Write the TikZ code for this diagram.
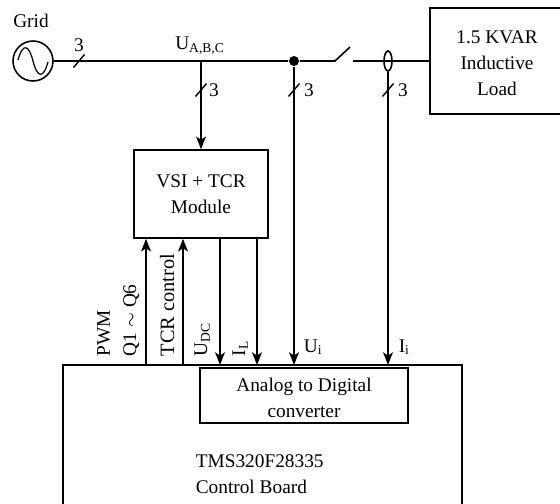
\documentclass[tikz,border=0pt]{standalone}
\usepackage{fontspec}
\setmainfont{Liberation Serif}
\usetikzlibrary{arrows.meta,shapes.geometric}
\tikzset{
  block/.style={draw,inner sep=0pt},
  lbl/.style={inner sep=0pt,align=center,font=\fontsize{11}{14.8}\selectfont},
  vlbl/.style={lbl,rotate=90,anchor=base west,align=left},
  tick/.style={line width=0.8pt}
}

\begin{document}
\begin{tikzpicture}[line width=0.9pt,>={Stealth[length=7.2pt,width=5.6pt,inset=1.8pt]}]
\useasboundingbox (0,0) rectangle (11.2,10.06);
% ---------- grid and bus ----------
\node[lbl] (gridlabel) at (0.62,9.64) {Grid};
\node[draw,circle,minimum size=0.8cm,inner sep=0pt] (grid) at (0.66,8.84) {};
\draw[line width=0.7pt] (0.36,8.86) .. controls (0.46,9.22) and (0.58,9.16) .. (0.66,8.84)
  .. controls (0.74,8.52) and (0.86,8.46) .. (0.96,8.82);
\coordinate (busfeed) at (4.02,8.84);
\node[fill,circle,minimum size=0.2cm,inner sep=0pt] (busdot) at (5.88,8.84) {};
\coordinate (swleft) at (6.70,8.84);
\coordinate (swtip) at (7.00,9.12);
\coordinate (swright) at (7.06,8.84);
\node[draw,ellipse,minimum width=0.16cm,minimum height=0.40cm,inner sep=0pt] (ct) at (7.76,8.84) {};
\node[block,minimum width=3.2cm,minimum height=2.12cm] (load) at (10.2,8.84) {};
\node[lbl] (loadtext) at (9.94,8.80) {1.5 KVAR\\Inductive\\Load};
\draw (grid) -- (busdot) -- (swleft) -- (swtip);
\draw (swright) -- (load.west);
\node[lbl] (busname) at (4.00,9.14) {U\textsubscript{A,B,C}};
% ---------- boxes ----------
\node[block,minimum width=2.68cm,minimum height=1.76cm] (vsi) at (4.02,6.18) {};
\node[lbl] (vsitext) at (4.02,6.17) {VSI + TCR\\Module};
\node[block,minimum width=7.98cm,minimum height=3.16cm] (board) at (5.25,1.18) {};
\node[block,fill=white,minimum width=4.16cm,minimum height=1.10cm] (adc) at (6.08,2.15) {};
\node[lbl] (adctext) at (6.08,2.10) {Analog to Digital\\converter};
\node[lbl,align=left,anchor=west] (boardtext) at (3.90,0.57) {TMS320F28335\\Control Board};
% ---------- feeders ----------
\draw[->] (busfeed) -- (vsi.north);
\foreach \name/\x in {ui/5.88,ii/7.76} \coordinate (\name) at (\x,2.76);
\draw[->] (busdot) -- (ui);
\draw[->] (ct) -- (ii);
% ---------- signals ----------
\foreach \name/\x in {pwm/2.92,tcr/3.66} {
  \coordinate (\name) at (\x,2.76);
  \draw[->] (\name) -- (\name |- vsi.south);
}
\foreach \name/\x in {udc/4.40,il/5.14} {
  \coordinate (\name) at (\x,2.76);
  \draw[->] (\name |- vsi.south) -- (\name);
}
% ---------- ticks ----------
\draw[tick] (1.47,8.71) -- (1.69,8.97);
\foreach \x in {4.02,5.88,7.76} \draw[tick] (\x-0.11,8.13) -- (\x+0.11,8.39);
\node[lbl] (n1) at (1.58,9.16) {3};
\foreach \name/\x in {n2/4.28,n3/6.18,n4/8.06} \node[lbl] (\name) at (\x,8.26) {3};
% ---------- signal names ----------
\node[vlbl] (pwmtext) at (2.72,2.92) {PWM\\Q1 $\sim$ Q6};
\node[vlbl] (tcrtext) at (3.48,2.92) {\fontsize{11.6}{14.8}\selectfont TCR control};
\node[vlbl] (udctext) at (4.14,2.92) {U\textsubscript{DC}};
\node[vlbl] (iltext) at (4.90,2.92) {I\textsubscript{L}};
\node[lbl,anchor=base west] (uitext) at (6.06,3.02) {U\textsubscript{i}};
\node[lbl,anchor=base west] (iitext) at (7.96,3.02) {I\textsubscript{i}};
\end{tikzpicture}
\end{document}
